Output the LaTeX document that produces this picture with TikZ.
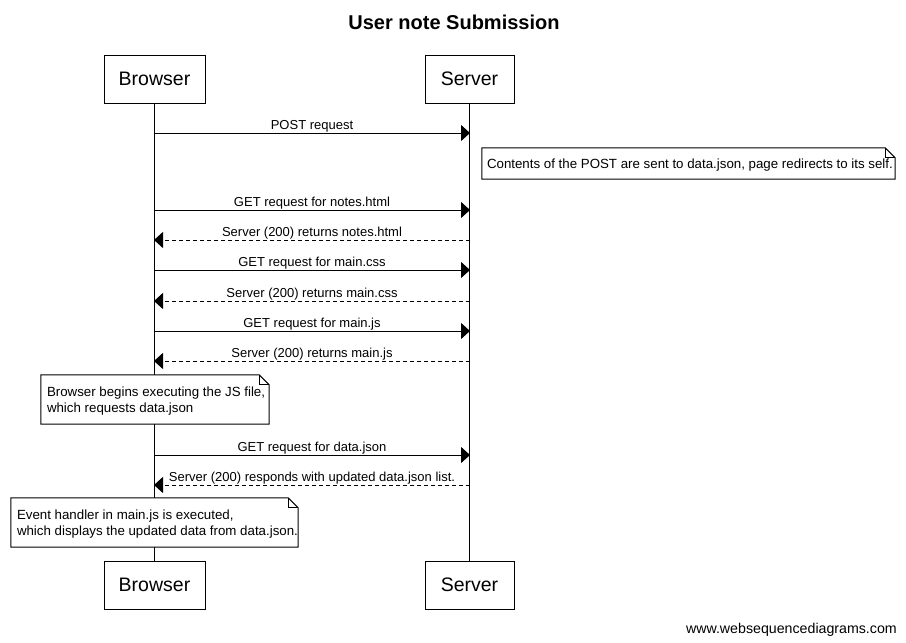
\documentclass[tikz,border=0pt]{standalone}
\usepackage{fontspec}
\setmainfont{Liberation Sans}
\usetikzlibrary{arrows.meta}
\tikzset{actor/.style={
    draw=black, line width=1pt, fill=white,
    minimum height=48pt, inner sep=0pt,
    font=\fontsize{19.5}{22}\selectfont},
  lifeline/.style={draw=black, line width=1pt},
  request/.style={
    draw=black, line width=1pt,
    -{Triangle[length=9pt,width=16pt]}},
  reply/.style={request, dash pattern=on 4pt off 3pt},
  msglabel/.style={
    midway, above, inner sep=0pt, yshift=0.5pt,
    font=\fontsize{13}{15}\selectfont},
  noteframe/.style={inner sep=0pt},
  notetext/.style={
    anchor=west, align=left, inner sep=0pt, yshift=-1.5pt,
    font=\fontsize{13.3}{16}\selectfont}}
% note with folded corner
\newcommand{\notefold}[1]{%
  \path[draw=black, line width=1pt, fill=white]
    (#1.south west) -- (#1.south east) -- ([yshift=-10pt]#1.north east)
    -- ([xshift=-10pt]#1.north east) -- (#1.north west) -- cycle;
  \path[draw=black, line width=1pt]
    ([xshift=-10pt]#1.north east) -- ([xshift=-10pt,yshift=-10pt]#1.north east)
    -- ([yshift=-10pt]#1.north east);}

\begin{document}
\begin{tikzpicture}[x=1pt,y=-1pt]
\useasboundingbox[fill=white] (0,0) rectangle (906,643);

\node[font=\bfseries\fontsize{20}{24}\selectfont] (title) at (454,22) {User note Submission};

\node[actor, minimum width=101pt] (browser) at (154.5,79) {Browser};
\node[actor, minimum width=89pt] (server) at (469.5,79) {Server};
\node[actor, minimum width=101pt] (browserend) at (154.5,585) {Browser};
\node[actor, minimum width=89pt] (serverend) at (469.5,585) {Server};

\path[lifeline] (browser.south) -- (browserend.north);
\path[lifeline] (server.south) -- (serverend.north);

\foreach \n/\y in {1/133,2/210,3/240,4/270,5/301,6/331,7/361,8/455,9/485}{
  \coordinate (b\n) at (154,\y);
  \coordinate (s\n) at (470,\y);
}

\draw[request] (b1) -- (s1) node[msglabel] {POST request};
\draw[request] (b2) -- (s2) node[msglabel] {GET request for notes.html};
\draw[reply] (s3) -- (b3) node[msglabel] {Server (200) returns notes.html};
\draw[request] (b4) -- (s4) node[msglabel] {GET request for main.css};
\draw[reply] (s5) -- (b5) node[msglabel] {Server (200) returns main.css};
\draw[request] (b6) -- (s6) node[msglabel] {GET request for main.js};
\draw[reply] (s7) -- (b7) node[msglabel] {Server (200) returns main.js};
\draw[request] (b8) -- (s8) node[msglabel] {GET request for data.json};
\draw[reply] (s9) -- (b9) node[msglabel] {Server (200) responds with updated data.json list.};

\node[noteframe, minimum width=413pt, minimum height=31pt] (postnote) at (688.5,163.5) {};
\notefold{postnote}
\node[notetext] (posttext) at ([xshift=5pt]postnote.west) {Contents of the POST are sent to data.json, page redirects to its self.};

\node[noteframe, minimum width=228pt, minimum height=49pt] (jsnote) at (155,399.5) {};
\notefold{jsnote}
\node[notetext] (jstext) at ([xshift=6pt]jsnote.west) {Browser begins executing the JS file,\\which requests data.json};

\node[noteframe, minimum width=287pt, minimum height=49pt] (eventnote) at (154.5,522.5) {};
\notefold{eventnote}
\node[notetext] (eventtext) at ([xshift=6pt]eventnote.west) {Event handler in main.js is executed,\\which displays the updated data from data.json.};

\node[anchor=east, font=\fontsize{14.2}{16}\selectfont, inner sep=0pt] (credit) at (897,630) {www.websequencediagrams.com};
\end{tikzpicture}
\end{document}
